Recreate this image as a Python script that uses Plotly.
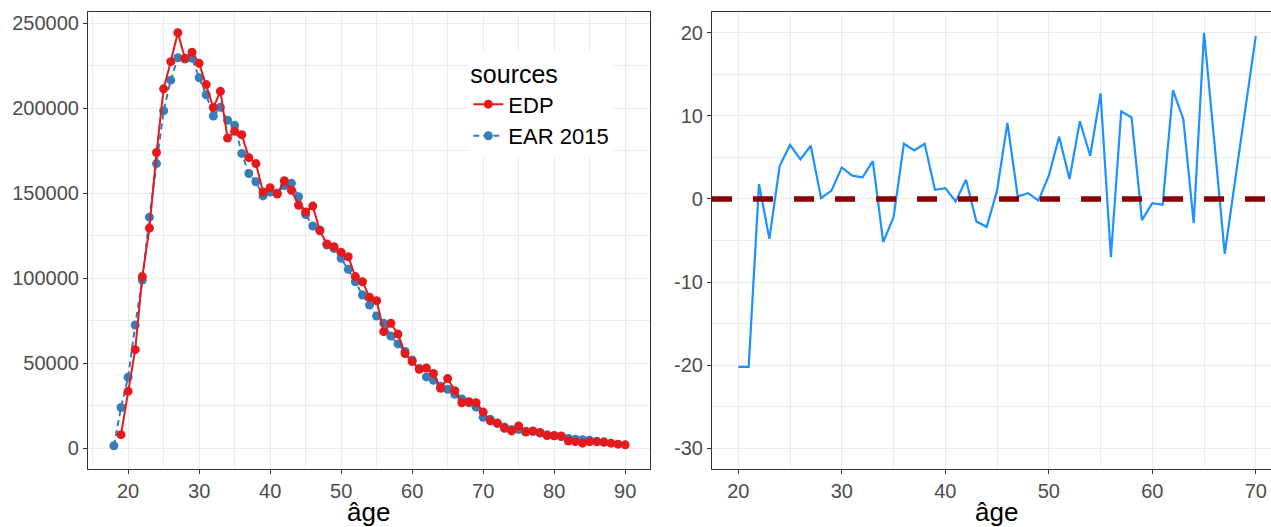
import plotly.graph_objects as go

# ---- data ----
ages_edp = list(range(19, 91))
edp = [8000, 33500, 58000, 101000, 129500, 174000, 211500, 227500, 244500, 229500,
       233000, 226500, 214000, 200500, 210000, 182500, 186500, 184500, 171000, 167500,
       150800, 153300, 149600, 157400, 151800, 143000, 139000, 142500, 128000, 120200,
       118600, 115300, 112700, 101000, 98000, 88800, 86800, 68600, 73500, 67200,
       55700, 51000, 46500, 47200, 44000, 35300, 41000, 33900, 26800, 27400,
       26800, 21300, 16100, 14800, 11800, 10200, 13100, 9600, 10200, 9300,
       7400, 7300, 7200, 4300, 3900, 3000, 3900, 3800, 3500, 3000,
       2400, 2000]

ages_ear = list(range(18, 88))
ear = [1500, 24000, 41800, 72500, 99000, 136000, 167500, 198600, 216600, 229800,
       229000, 229500, 218000, 208000, 195500, 200600, 193000, 190000, 173500, 161700,
       156800, 148500, 150800, 150200, 154500, 155900, 148000, 137500, 130800, 128500,
       119600, 117500, 111800, 105300, 98000, 90200, 84300, 77800, 73500, 66000,
       61400, 57000, 52000, 47000, 42000, 40000, 36500, 34700, 31800, 29000,
       26800, 24200, 18200, 17000, 14500, 12500, 11000, 11000, 10000, 9800,
       9000, 8000, 7500, 6800, 5800, 5300, 5000, 4700, 4200, 3800]

ages_diff = list(range(20, 71))
diff = [-20.2, -20.2, 1.8, -4.8, 4.0, 6.5, 4.75, 6.4, 0.1, 1.0,
        3.8, 2.8, 2.6, 4.55, -5.2, -2.2, 6.65, 5.85, 6.65, 1.1,
        1.3, -0.3, 2.3, -2.7, -3.35, 1.0, 9.15, 0.3, 0.7, -0.2,
        2.8, 7.5, 2.4, 9.35, 5.2, 12.7, -7.0, 10.55, 9.8, -2.55,
        -0.5, -0.7, 13.1, 9.6, -2.9, 20.0, 6.8, -6.6, 2.2, 10.9,
        19.6]

left_yticks = [0, 50000, 100000, 150000, 200000, 250000]
left_ytick_text = ["0", "50000", "100000", "150000", "200000", "250000"]
right_yticks = [-30, -20, -10, 0, 10, 20]
right_ytick_text = ["-30", "-20", "-10", "0", "10", "20"]
left_xticks = [20, 30, 40, 50, 60, 70, 80, 90]
right_xticks = [20, 30, 40, 50, 60, 70]

FONT = "Liberation Sans"
RED = "#E41A1C"
BLUE = "#377EB8"
GRID = "#EBEBEB"
BORDER = "#333333"

fig = go.Figure()

fig.add_trace(go.Scatter(
    x=ages_ear, y=ear, name="EAR 2015", mode="lines+markers",
    line=dict(color=BLUE, width=2, dash="6px,4px"),
    marker=dict(color=BLUE, size=9), legendrank=2,
    xaxis="x", yaxis="y"))
fig.add_trace(go.Scatter(
    x=ages_edp, y=edp, name="EDP", mode="lines+markers",
    line=dict(color=RED, width=2),
    marker=dict(color=RED, size=9), legendrank=1,
    xaxis="x", yaxis="y"))

fig.add_trace(go.Scatter(
    x=ages_diff, y=diff, mode="lines", showlegend=False,
    line=dict(color="#1E90FF", width=2.2),
    xaxis="x2", yaxis="y2"))

fig.add_shape(type="line", xref="x2 domain", yref="y2", x0=0, x1=1, y0=0, y1=0,
              line=dict(color="#8B0000", width=5.5, dash="20px,21px"), layer="above")

tickfont = dict(family=FONT, size=20, color="#4D4D4D")
common = dict(showgrid=True, gridcolor=GRID, gridwidth=1.3, zeroline=False,
              showline=True, mirror=True, linecolor=BORDER, linewidth=1.2,
              ticks="outside", ticklen=4, tickcolor=BORDER, tickwidth=1,
              tickfont=tickfont)

fig.update_layout(
    width=1271, height=527,
    margin=dict(l=88, r=0, t=12, b=58),
    paper_bgcolor="white", plot_bgcolor="white",
    font=dict(family=FONT),
    xaxis=dict(domain=[0, 0.4751], range=[14.35, 93.5], tickvals=left_xticks,
               minor=dict(tickvals=[15, 25, 35, 45, 55, 65, 75, 85], showgrid=True,
                          gridcolor=GRID, gridwidth=0.7, ticks=""),
               anchor="y", **common),
    yaxis=dict(domain=[0, 1], range=[-12200, 256700], tickvals=left_yticks,
               ticktext=left_ytick_text,
               minor=dict(tickvals=[25000, 75000, 125000, 175000, 225000], showgrid=True,
                          gridcolor=GRID, gridwidth=0.7, ticks=""),
               anchor="x", **common),
    xaxis2=dict(domain=[0.5275, 1], range=[17.46, 71.47], tickvals=right_xticks,
                minor=dict(tickvals=[25, 35, 45, 55, 65], showgrid=True,
                           gridcolor=GRID, gridwidth=0.7, ticks=""),
                anchor="y2", **common),
    yaxis2=dict(domain=[0, 1], range=[-32.5, 22.5], tickvals=right_yticks,
                ticktext=right_ytick_text,
                minor=dict(tickvals=[-25, -15, -5, 5, 15], showgrid=True,
                           gridcolor=GRID, gridwidth=0.7, ticks=""),
                anchor="x2", **common),
    legend=dict(x=0.3215, y=0.915, xanchor="left", yanchor="top",
                bgcolor="white", borderwidth=0,
                title=dict(text="sources", font=dict(family=FONT, size=25, color="black")),
                font=dict(family=FONT, size=22, color="black"),
                traceorder="normal", itemwidth=30),
    annotations=[
        dict(text="âge", x=0.2375, y=-0.094, xref="paper", yref="paper",
             xanchor="center", yanchor="middle", showarrow=False,
             font=dict(family=FONT, size=26, color="black")),
        dict(text="âge", x=0.768, y=-0.094, xref="paper", yref="paper",
             xanchor="center", yanchor="middle", showarrow=False,
             font=dict(family=FONT, size=26, color="black")),
    ],
)

fig.write_html("out.html")
